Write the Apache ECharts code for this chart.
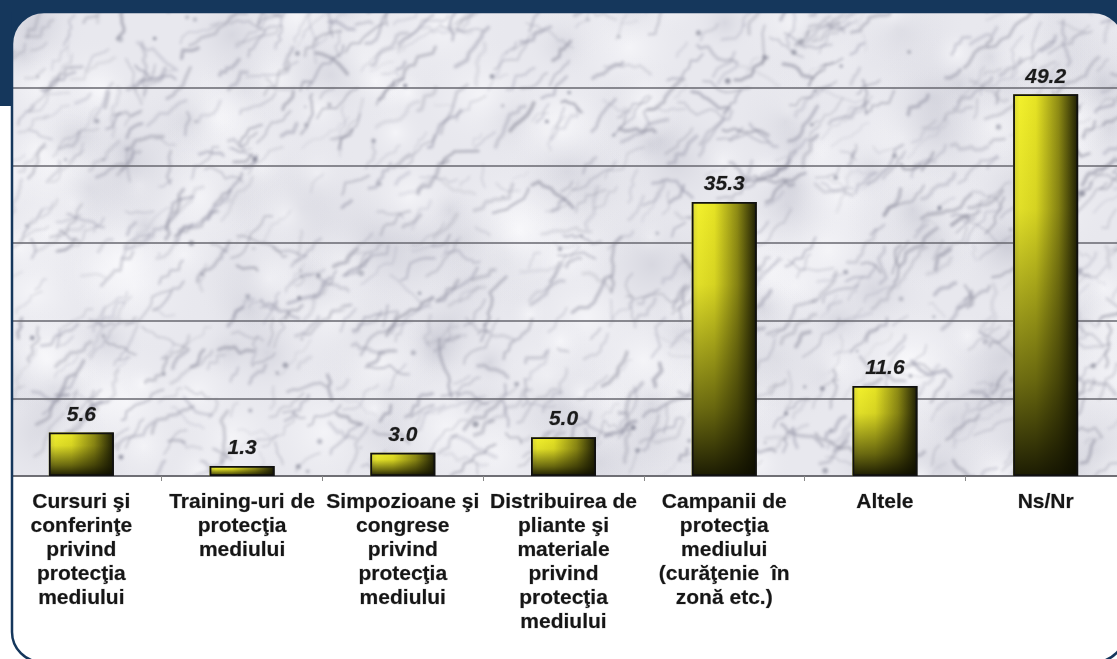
<!DOCTYPE html>
<html>
<head>
<meta charset="utf-8">
<title>Activitati de protectia mediului</title>
<script src="https://cdn.jsdelivr.net/npm/echarts@6/dist/echarts.min.js"></script>
<style>
  html, body { margin: 0; padding: 0; background: #fff; }
  #chart { width: 1117px; height: 659px; }
</style>
</head>
<body>
<div id="chart"></div>
<script>
// category labels, already broken into lines as on the chart
const categories = [
  'Cursuri şi\nconferinţe\nprivind\nprotecţia\nmediului',
  'Training-uri de\nprotecţia\nmediului',
  'Simpozioane şi\ncongrese\nprivind\nprotecţia\nmediului',
  'Distribuirea de\npliante şi\nmateriale\nprivind\nprotecţia\nmediului',
  'Campanii de\nprotecţia\nmediului\n(curăţenie  în\nzonă etc.)',
  'Altele',
  'Ns/Nr'
];
const values = [5.6, 1.3, 3.0, 5.0, 35.3, 11.6, 49.2];
const yMin = 0;
const yMax = 60;
const yStep = 10;

const NAVY = '#15375c';
const FONT = '"Liberation Sans", Arial, sans-serif';

// marble texture for the plot background (decoration only)
function makeMarble (w, h) {
  let seed = 12345;
  const rnd = function () {
    seed = (seed * 16807) % 2147483647;
    return seed / 2147483647;
  };
  // veins drawn on their own layer, then blurred onto the base
  const v = document.createElement('canvas');
  v.width = w;
  v.height = h;
  const vg = v.getContext('2d');
  vg.lineCap = 'round';
  vg.lineJoin = 'round';
  for (let i = 0; i < 1000; i++) {
    let x = rnd() * w, y = rnd() * h;
    const base = rnd() < 0.7 ? -0.7 : (rnd() < 0.5 ? -1.4 : 0.3);
    const grey = 110 + Math.floor(rnd() * 45);
    vg.strokeStyle = 'rgba(' + grey + ',' + grey + ',' + (grey + 18) + ',' + (0.15 + rnd() * 0.3) + ')';
    vg.lineWidth = 1 + rnd() * 3;
    vg.beginPath();
    vg.moveTo(x, y);
    const steps = 3 + Math.floor(rnd() * 7);
    for (let k = 0; k < steps; k++) {
      const a = base + (rnd() - 0.5) * 1.5;
      const len = 3 + rnd() * 6;
      x += Math.cos(a) * len;
      y += Math.sin(a) * len;
      vg.lineTo(x, y);
    }
    vg.stroke();
  }
  // dark spots
  for (let i = 0; i < 100; i++) {
    vg.fillStyle = 'rgba(110,112,130,' + (0.3 + rnd() * 0.4) + ')';
    vg.beginPath();
    vg.arc(rnd() * w, rnd() * h, 1 + rnd() * 2, 0, Math.PI * 2);
    vg.fill();
  }

  const c = document.createElement('canvas');
  c.width = w;
  c.height = h;
  const g = c.getContext('2d');
  g.fillStyle = '#e8e8ee';
  g.fillRect(0, 0, w, h);
  // soft light / grey clouds
  for (let i = 0; i < 240; i++) {
    const x = rnd() * w, y = rnd() * h, r = 20 + rnd() * 60;
    const light = rnd() > 0.5;
    const grd = g.createRadialGradient(x, y, 0, x, y, r);
    grd.addColorStop(0, light ? 'rgba(252,252,254,0.6)' : 'rgba(165,166,182,0.25)');
    grd.addColorStop(1, 'rgba(232,232,238,0)');
    g.fillStyle = grd;
    g.fillRect(x - r, y - r, r * 2, r * 2);
  }
  g.filter = 'blur(1.7px)';
  g.drawImage(v, 0, 0);
  g.filter = 'none';
  return c;
}

const marble = makeMarble(1130, 480);

const chart = echarts.init(document.getElementById('chart'), null, { renderer: 'canvas' });

const barFill = new echarts.graphic.LinearGradient(0, 0, 1, 0, [
  { offset: 0, color: '#d8d63a' },
  { offset: 0.1, color: '#f2f02c' },
  { offset: 0.35, color: '#e6e324' },
  { offset: 0.7, color: '#8e8b14' },
  { offset: 1, color: '#1c1c04' }
]);
const barShade = new echarts.graphic.LinearGradient(0, 0, 0, 1, [
  { offset: 0, color: 'rgba(20,20,0,0)' },
  { offset: 0.3, color: 'rgba(20,20,0,0.08)' },
  { offset: 0.75, color: 'rgba(20,20,0,0.6)' },
  { offset: 1, color: 'rgba(12,12,0,0.93)' }
]);

const option = {
  animation: false,
  backgroundColor: '#fff',
  grid: {
    left: 1,
    top: 10.4,
    bottom: 183,
    width: 1125,
    containLabel: false,
    outerBoundsMode: 'none'
  },
  xAxis: {
    type: 'category',
    data: categories,
    boundaryGap: true,
    axisLine: { show: true, lineStyle: { color: '#66666c', width: 1.5 } },
    axisTick: { show: true, length: 5, lineStyle: { color: '#888', width: 1 } },
    axisLabel: {
      interval: 0,
      margin: 14,
      color: '#161616',
      fontFamily: FONT,
      fontWeight: 'bold',
      fontSize: 21,
      lineHeight: 24,
      align: 'center',
      textBorderColor: 'rgba(22,22,22,0.35)',
      textBorderWidth: 0.6
    },
    splitLine: { show: false }
  },
  yAxis: {
    type: 'value',
    min: yMin,
    max: yMax,
    interval: yStep,
    axisLine: { show: false },
    axisTick: { show: false },
    axisLabel: { show: false },
    splitLine: {
      show: true,
      lineStyle: { color: '#67676f', width: 1.6 }
    }
  },
  series: [
    {
      type: 'bar',
      data: values,
      barWidth: 65,
      silent: true,
      itemStyle: { color: barFill, borderWidth: 0 }
    },
    {
      type: 'bar',
      data: values,
      barWidth: 65,
      barGap: '-100%',
      silent: true,
      itemStyle: { color: barShade, borderColor: '#111', borderWidth: 1.8 },
      label: {
        show: true,
        position: 'top',
        distance: 7,
        color: '#1a1a1a',
        fontFamily: FONT,
        fontStyle: 'italic',
        fontWeight: 'bold',
        fontSize: 21,
        textBorderColor: 'rgba(26,26,26,0.35)',
        textBorderWidth: 0.6,
        formatter: function (p) { return p.value.toFixed(1); }
      }
    }
  ],
  graphic: {
    elements: [
      // navy frame behind the panel
      { type: 'rect', z: -10, silent: true, shape: { x: 0, y: 0, width: 1117, height: 106 }, style: { fill: NAVY } },
      // white panel
      { type: 'rect', z: -9, silent: true, shape: { x: 12, y: 12, width: 1113, height: 650, r: [32, 32, 30, 30] }, style: { fill: '#fff' } },
      // marble plot area
      { type: 'rect', z: -8, silent: true, shape: { x: 12, y: 12, width: 1113, height: 464, r: [32, 32, 0, 0] }, style: { fill: { image: marble, repeat: 'repeat' } } },
      // covers left of the panel
      { type: 'rect', z: 100, silent: true, shape: { x: 0, y: 0, width: 11.5, height: 106 }, style: { fill: NAVY } },
      { type: 'rect', z: 100, silent: true, shape: { x: 0, y: 106, width: 11.5, height: 560 }, style: { fill: '#fff' } },
      { type: 'rect', z: 100, silent: true, shape: { x: 0, y: 0, width: 1117, height: 12 }, style: { fill: NAVY } },
      // panel border (left and bottom only show)
      { type: 'rect', z: 101, silent: true, shape: { x: 12, y: 12, width: 1113, height: 650, r: [32, 32, 30, 30] }, style: { fill: 'none', stroke: NAVY, lineWidth: 2.5 } }
    ]
  }
};

chart.setOption(option);
</script>
</body>
</html>
